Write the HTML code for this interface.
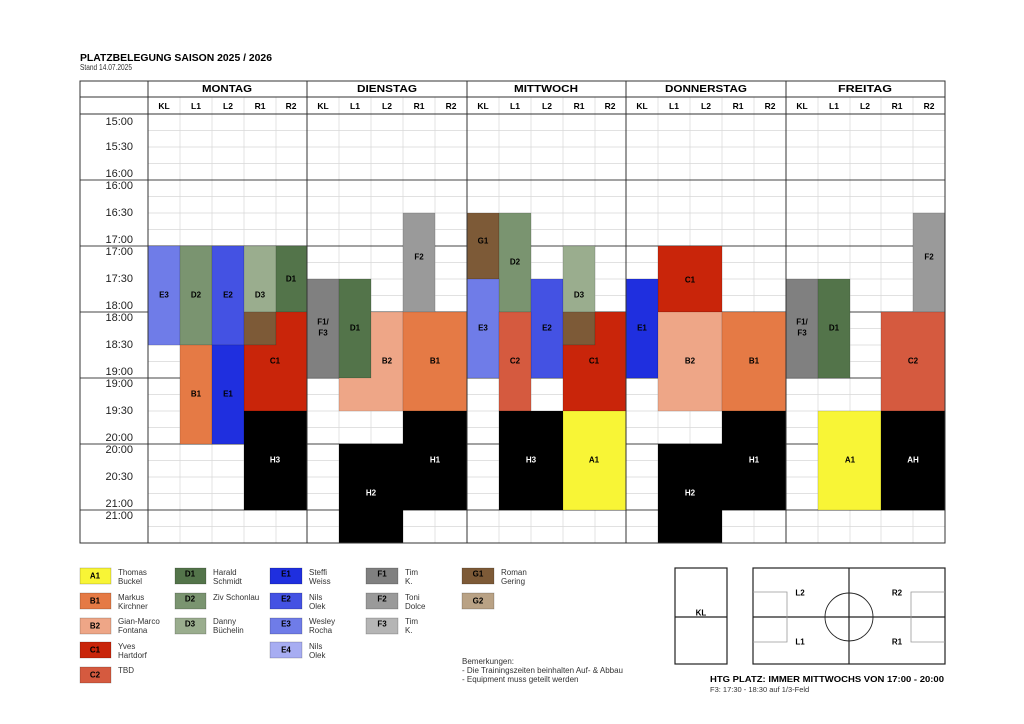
<!DOCTYPE html>
<html><head><meta charset="utf-8"><style>
html,body{margin:0;padding:0;background:#fff;}
svg{display:block;font-family:"Liberation Sans",sans-serif;}
.b{font-weight:bold;font-size:8px;text-anchor:middle;dominant-baseline:central;}
.h{font-weight:bold;font-size:8.5px;text-anchor:middle;dominant-baseline:central;}
.d{font-weight:bold;font-size:10.5px;text-anchor:middle;dominant-baseline:central;}
.w{fill:#fff;}
.t{font-size:11px;text-anchor:end;fill:#222;}
.lg{font-size:8px;fill:#333;}
</style></head><body>
<svg width="1024" height="724" viewBox="0 0 1024 724" xmlns="http://www.w3.org/2000/svg">
<rect width="1024" height="724" fill="#fff"/>
<text x="80" y="61" font-weight="bold" font-size="10.5" textLength="192" lengthAdjust="spacingAndGlyphs">PLATZBELEGUNG SAISON 2025 / 2026</text>
<text x="80" y="70" font-size="8" fill="#333" textLength="52" lengthAdjust="spacingAndGlyphs">Stand  14.07.2025</text>

<g stroke="#d8d8d8" stroke-width="0.7">
<path d="M148 130.5H945M148 147H945M148 163.5H945M148 196.5H945M148 213H945M148 229.5H945M148 262.5H945M148 279H945M148 295.5H945M148 328.5H945M148 345H945M148 361.5H945M148 394.5H945M148 411H945M148 427.5H945M148 460.5H945M148 477H945M148 493.5H945M148 526.5H945"/>
<path d="M180 97V543M212 97V543M244 97V543M276 97V543M339 97V543M371 97V543M403 97V543M435 97V543M499 97V543M531 97V543M563 97V543M595 97V543M658 97V543M690 97V543M722 97V543M754 97V543M818 97V543M850 97V543M881 97V543M913 97V543"/>
</g>
<g stroke="#444" stroke-width="1">
<path d="M80 180H945M80 246H945M80 312H945M80 378H945M80 444H945M80 510H945"/>
</g>

<g stroke="rgba(0,0,0,0.2)" stroke-width="0.6">
<rect x="148" y="246" width="32" height="99" fill="#6f7ce8"/>
<rect x="180" y="246" width="32" height="99" fill="#7a9470"/>
<rect x="212" y="246" width="32" height="99" fill="#4452e3"/>
<rect x="244" y="246" width="32" height="66" fill="#9aad8e"/>
<rect x="276" y="246" width="31" height="66" fill="#53744a"/>
<rect x="244" y="312" width="32" height="33" fill="#7d5a37"/>
<path d="M276 312H307V411H244V345H276Z" fill="#c9250a"/>
<rect x="180" y="345" width="32" height="99" fill="#e57a45"/>
<rect x="212" y="345" width="32" height="99" fill="#1f2fdf"/>
<rect x="244" y="411" width="63" height="99" fill="#000"/>
<rect x="307" y="279" width="32" height="99" fill="#808080"/>
<rect x="339" y="279" width="32" height="99" fill="#53744a"/>
<rect x="403" y="213" width="32" height="99" fill="#9a9a9a"/>
<path d="M371 312H403V411H339V378H371Z" fill="#eea687"/>
<rect x="403" y="312" width="64" height="99" fill="#e57a45"/>
<rect x="403" y="411" width="64" height="99" fill="#000"/>
<rect x="339" y="444" width="64" height="99" fill="#000"/>
<rect x="467" y="213" width="32" height="66" fill="#7d5a37"/>
<rect x="499" y="213" width="32" height="99" fill="#7a9470"/>
<rect x="467" y="279" width="32" height="99" fill="#6f7ce8"/>
<rect x="531" y="279" width="32" height="99" fill="#4452e3"/>
<rect x="563" y="246" width="32" height="66" fill="#9aad8e"/>
<rect x="563" y="312" width="32" height="33" fill="#7d5a37"/>
<path d="M595 312H626V411H563V345H595Z" fill="#c9250a"/>
<rect x="499" y="312" width="32" height="99" fill="#d55a3f"/>
<rect x="499" y="411" width="64" height="99" fill="#000"/>
<rect x="563" y="411" width="63" height="99" fill="#f8f536"/>
<rect x="658" y="246" width="64" height="66" fill="#c9250a"/>
<rect x="626" y="279" width="32" height="99" fill="#1f2fdf"/>
<rect x="658" y="312" width="64" height="99" fill="#eea687"/>
<rect x="722" y="312" width="64" height="99" fill="#e57a45"/>
<rect x="722" y="411" width="64" height="99" fill="#000"/>
<rect x="658" y="444" width="64" height="99" fill="#000"/>
<rect x="913" y="213" width="32" height="99" fill="#9a9a9a"/>
<rect x="786" y="279" width="32" height="99" fill="#808080"/>
<rect x="818" y="279" width="32" height="99" fill="#53744a"/>
<rect x="881" y="312" width="64" height="99" fill="#d55a3f"/>
<rect x="818" y="411" width="63" height="99" fill="#f8f536"/>
<rect x="881" y="411" width="64" height="99" fill="#000"/>
</g>

<g stroke="#333" stroke-width="1" fill="none">
<rect x="80" y="81" width="865" height="462"/>
<path d="M80 97H945M80 114H945M148 81V543M307 81V543M467 81V543M626 81V543M786 81V543"/>
</g>

<g>
<text class="d" x="227" y="89" textLength="50" lengthAdjust="spacingAndGlyphs">MONTAG</text>
<text class="d" x="387" y="89" textLength="60" lengthAdjust="spacingAndGlyphs">DIENSTAG</text>
<text class="d" x="546" y="89" textLength="64" lengthAdjust="spacingAndGlyphs">MITTWOCH</text>
<text class="d" x="706" y="89" textLength="82" lengthAdjust="spacingAndGlyphs">DONNERSTAG</text>
<text class="d" x="865" y="89" textLength="54" lengthAdjust="spacingAndGlyphs">FREITAG</text>
</g>
<g>
<text class="h" x="164" y="106">KL</text><text class="h" x="196" y="106">L1</text><text class="h" x="228" y="106">L2</text><text class="h" x="260" y="106">R1</text><text class="h" x="291" y="106">R2</text>
<text class="h" x="323" y="106">KL</text><text class="h" x="355" y="106">L1</text><text class="h" x="387" y="106">L2</text><text class="h" x="419" y="106">R1</text><text class="h" x="451" y="106">R2</text>
<text class="h" x="483" y="106">KL</text><text class="h" x="515" y="106">L1</text><text class="h" x="547" y="106">L2</text><text class="h" x="579" y="106">R1</text><text class="h" x="610" y="106">R2</text>
<text class="h" x="642" y="106">KL</text><text class="h" x="674" y="106">L1</text><text class="h" x="706" y="106">L2</text><text class="h" x="738" y="106">R1</text><text class="h" x="770" y="106">R2</text>
<text class="h" x="802" y="106">KL</text><text class="h" x="834" y="106">L1</text><text class="h" x="865" y="106">L2</text><text class="h" x="897" y="106">R1</text><text class="h" x="929" y="106">R2</text>
</g>

<g class="t">
<text x="133" y="125">15:00</text><text x="133" y="150">15:30</text><text x="133" y="177">16:00</text>
<text x="133" y="189">16:00</text><text x="133" y="216">16:30</text><text x="133" y="243">17:00</text>
<text x="133" y="255">17:00</text><text x="133" y="282">17:30</text><text x="133" y="309">18:00</text>
<text x="133" y="321">18:00</text><text x="133" y="348">18:30</text><text x="133" y="375">19:00</text>
<text x="133" y="387">19:00</text><text x="133" y="414">19:30</text><text x="133" y="441">20:00</text>
<text x="133" y="453">20:00</text><text x="133" y="480">20:30</text><text x="133" y="507">21:00</text>
<text x="133" y="519">21:00</text>
</g>

<g>
<text class="b" x="164" y="295">E3</text><text class="b" x="196" y="295">D2</text><text class="b" x="228" y="295">E2</text><text class="b" x="260" y="295">D3</text><text class="b" x="291" y="279">D1</text>
<text class="b" x="275" y="361">C1</text><text class="b" x="196" y="394">B1</text><text class="b" x="228" y="394">E1</text><text class="b w" x="275" y="460">H3</text>
<text class="b" x="323" y="322">F1/</text><text class="b" x="323" y="333">F3</text><text class="b" x="355" y="328">D1</text><text class="b" x="419" y="257">F2</text>
<text class="b" x="387" y="361">B2</text><text class="b" x="435" y="361">B1</text><text class="b w" x="435" y="460">H1</text><text class="b w" x="371" y="493">H2</text>
<text class="b" x="483" y="241">G1</text><text class="b" x="515" y="262">D2</text><text class="b" x="483" y="328">E3</text><text class="b" x="547" y="328">E2</text><text class="b" x="579" y="295">D3</text>
<text class="b" x="594" y="361">C1</text><text class="b" x="515" y="361">C2</text><text class="b w" x="531" y="460">H3</text><text class="b" x="594" y="460">A1</text>
<text class="b" x="690" y="280">C1</text><text class="b" x="642" y="328">E1</text><text class="b" x="690" y="361">B2</text><text class="b" x="754" y="361">B1</text>
<text class="b w" x="754" y="460">H1</text><text class="b w" x="690" y="493">H2</text>
<text class="b" x="929" y="257">F2</text><text class="b" x="802" y="322">F1/</text><text class="b" x="802" y="333">F3</text><text class="b" x="834" y="328">D1</text>
<text class="b" x="913" y="361">C2</text><text class="b" x="850" y="460">A1</text><text class="b w" x="913" y="460">AH</text>
</g>

<g stroke="rgba(0,0,0,0.3)" stroke-width="0.6">
<rect x="80" y="568" width="31" height="16" fill="#f8f536"/>
<rect x="80" y="593" width="31" height="16" fill="#e57a45"/>
<rect x="80" y="618" width="31" height="16" fill="#eea687"/>
<rect x="80" y="642" width="31" height="16" fill="#c9250a"/>
<rect x="80" y="667" width="31" height="16" fill="#d55a3f"/>
<rect x="175" y="568" width="31" height="16" fill="#53744a"/>
<rect x="175" y="593" width="31" height="16" fill="#7a9470"/>
<rect x="175" y="618" width="31" height="16" fill="#9aad8e"/>
<rect x="270" y="568" width="32" height="16" fill="#1f2fdf"/>
<rect x="270" y="593" width="32" height="16" fill="#4452e3"/>
<rect x="270" y="618" width="32" height="16" fill="#6f7ce8"/>
<rect x="270" y="642" width="32" height="16" fill="#a7adf2"/>
<rect x="366" y="568" width="32" height="16" fill="#808080"/>
<rect x="366" y="593" width="32" height="16" fill="#9a9a9a"/>
<rect x="366" y="618" width="32" height="16" fill="#b5b5b5"/>
<rect x="462" y="568" width="32" height="16" fill="#7d5a37"/>
<rect x="462" y="593" width="32" height="16" fill="#b9a285"/>
</g>
<g>
<text class="b" x="95" y="576">A1</text><text class="b" x="95" y="601">B1</text><text class="b" x="95" y="626">B2</text><text class="b" x="95" y="650">C1</text><text class="b" x="95" y="675">C2</text>
<text class="b" x="190" y="574">D1</text><text class="b" x="190" y="599">D2</text><text class="b" x="190" y="624">D3</text>
<text class="b" x="286" y="574">E1</text><text class="b" x="286" y="599">E2</text><text class="b" x="286" y="624">E3</text><text class="b" x="286" y="650">E4</text>
<text class="b" x="382" y="574">F1</text><text class="b" x="382" y="599">F2</text><text class="b" x="382" y="624">F3</text>
<text class="b" x="478" y="574">G1</text><text class="b" x="478" y="601">G2</text>
</g>
<g class="lg">
<text x="118" y="575">Thomas</text><text x="118" y="584">Buckel</text>
<text x="118" y="600">Markus</text><text x="118" y="609">Kirchner</text>
<text x="118" y="624">Gian-Marco</text><text x="118" y="633">Fontana</text>
<text x="118" y="649">Yves</text><text x="118" y="658">Hartdorf</text>
<text x="118" y="673">TBD</text>
<text x="213" y="575">Harald</text><text x="213" y="584">Schmidt</text>
<text x="213" y="600">Ziv Schonlau</text>
<text x="213" y="624">Danny</text><text x="213" y="633">Büchelin</text>
<text x="309" y="575">Steffi</text><text x="309" y="584">Weiss</text>
<text x="309" y="600">Nils</text><text x="309" y="609">Olek</text>
<text x="309" y="624">Wesley</text><text x="309" y="633">Rocha</text>
<text x="309" y="649">Nils</text><text x="309" y="658">Olek</text>
<text x="405" y="575">Tim</text><text x="405" y="584">K.</text>
<text x="405" y="600">Toni</text><text x="405" y="609">Dolce</text>
<text x="405" y="624">Tim</text><text x="405" y="633">K.</text>
<text x="501" y="575">Roman</text><text x="501" y="584">Gering</text>
<text x="462" y="664">Bemerkungen:</text>
<text x="462" y="673">- Die Trainingszeiten beinhalten Auf- &amp; Abbau</text>
<text x="462" y="682">- Equipment muss geteilt werden</text>
</g>

<g fill="none" stroke="#222" stroke-width="1.2">
<rect x="675" y="568" width="52" height="96"/>
<path d="M675 617H727"/>
<rect x="753" y="568" width="192" height="96"/>
<path d="M849 568V664M753 617H945"/>
<circle cx="849" cy="617" r="24" stroke-width="0.9"/>
</g>
<g fill="none" stroke="#999" stroke-width="0.8">
<path d="M753 592H787V642H753M945 592H911V642H945"/>
</g>
<g>
<text class="b" x="701" y="613">KL</text>
<text class="b" x="800" y="593">L2</text><text class="b" x="897" y="593">R2</text>
<text class="b" x="800" y="642">L1</text><text class="b" x="897" y="642">R1</text>
</g>
<text x="710" y="682" font-weight="bold" font-size="8.5" textLength="234" lengthAdjust="spacingAndGlyphs">HTG PLATZ: IMMER MITTWOCHS VON 17:00 - 20:00</text>
<text x="710" y="692" font-size="7.5" fill="#333">F3: 17:30 - 18:30 auf 1/3-Feld</text>
</svg>
</body></html>
